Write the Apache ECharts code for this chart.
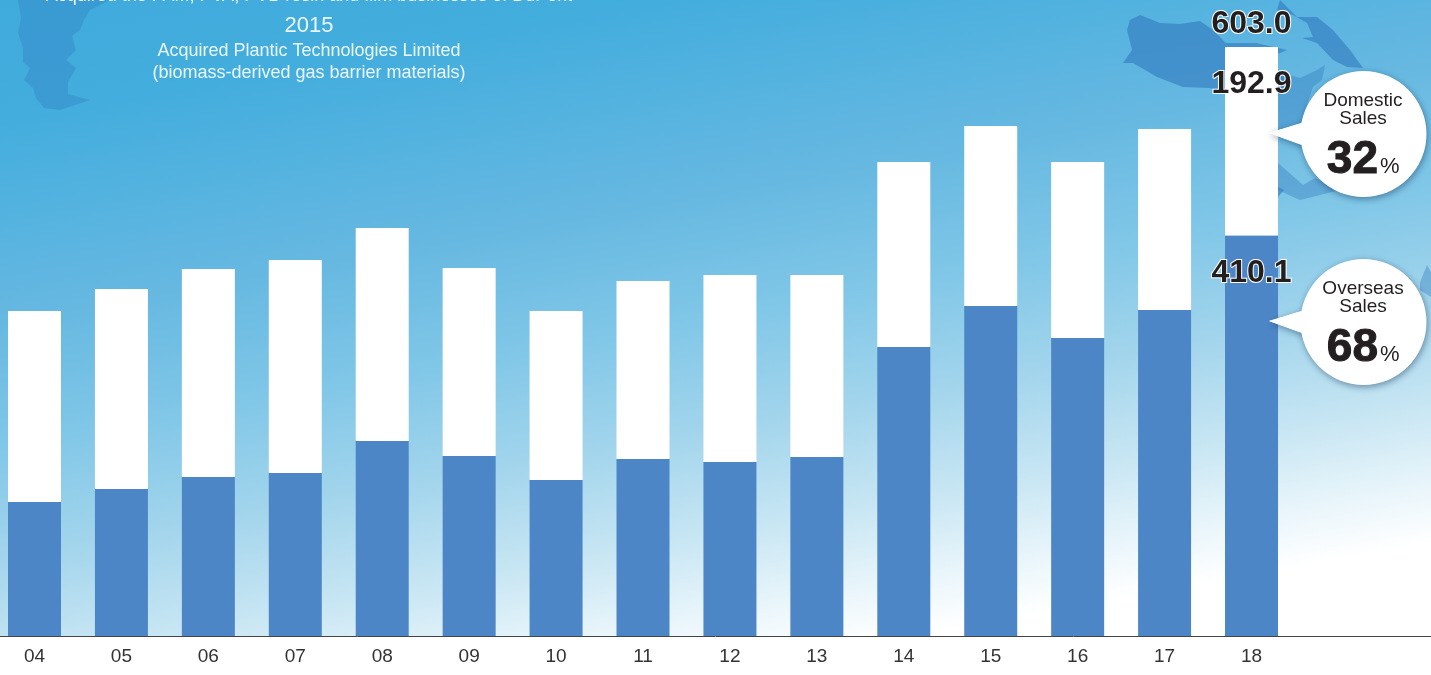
<!DOCTYPE html>
<html><head><meta charset="utf-8">
<style>html,body{margin:0;padding:0;background:#fff}#c{width:1431px;height:675px}</style>
<script src="https://cdn.jsdelivr.net/npm/echarts@6/dist/echarts.min.js"></script>
</head><body><div id="c"></div>
<script>
const categories = ['04','05','06','07','08','09','10','11','12','13','14','15','16','17','18','',''];
const overseas = [137.2,150.5,162.8,166.9,199.6,184.3,159.7,181.2,178.1,183.3,295.9,337.8,305.1,333.7,410.1];
const domestic = [195.5,204.7,212.9,218.0,218.1,192.4,173.0,182.2,191.5,186.3,189.4,184.3,180.2,185.3,192.9];
const totalLabelPoint = [['18',603.0]];
const SANS = '"Liberation Sans", Arial, sans-serif';
const INK = '#231f20', CAP = '#eaf7fd', MAP = 'rgba(48,120,190,0.6)', MAP2 = 'rgba(48,120,190,0.38)';

function poly(points, fill, z){ return {type:'polygon', silent:true, z:z||-5, shape:{points}, style:{fill}}; }
function txt(x,y,text,size,fill,weight,align,extra){
  return {type:'text', silent:true, z:120, x, y, style:Object.assign({text, font:(weight||'normal')+' '+size+'px '+SANS, fill, align:align||'center', verticalAlign:'middle'},extra||{})};
}
function bubble(cy, l1, l2, pct){
  const cx=1363.5, r=63, y1=cy-33.5, y2=cy-15.5;
  const shadow={shadowBlur:7, shadowColor:'rgba(0,30,70,0.45)', shadowOffsetX:1, shadowOffsetY:2};
  return [
    {type:'polygon', silent:true, z:110, shape:{points:[[1269,cy-1],[1304,cy-12],[1304,cy+12]]}, style:Object.assign({fill:'#fff'},shadow)},
    {type:'circle', silent:true, z:111, shape:{cx,cy,r}, style:Object.assign({fill:'#fff'},shadow)},
    {type:'polygon', silent:true, z:112, shape:{points:[[1269,cy-1],[1306,cy-12],[1306,cy+12]]}, style:{fill:'#fff'}},
    txt(1363,y1,l1,19,INK), txt(1363,y2,l2,19,INK),
    txt(1378,cy+26,pct,46,INK,'bold','right',{stroke:INK,lineWidth:1}),
    txt(1380,cy+33,'%',22,INK,'normal','left')
  ];
}
const elements = [
  {type:'rect', silent:true, z:-10, shape:{x:0,y:0,width:1431,height:636}, style:{fill:new echarts.graphic.LinearGradient(0,0,0.0974,1.218,[
    {offset:0,color:'#3fabdc'},{offset:0.15,color:'#43addd'},{offset:0.4,color:'#66b8e1'},{offset:0.55,color:'#7fc6e7'},{offset:0.7,color:'#a3d5ec'},{offset:0.83,color:'#c8e6f3'},{offset:0.92,color:'#e6f4fa'},{offset:1,color:'#ffffff'}])}},
  poly([[18,0],[21,18],[18,33],[23,48],[23,62],[30,68],[24,80],[33,88],[36,98],[44,108],[60,110],[72,106],[90,100],[68,94],[68,82],[76,68],[66,60],[76,50],[72,36],[80,30],[84,20],[90,10],[110,0]],'rgba(50,125,195,0.38)'),
  poly([[1130,20],[1140,15],[1160,23],[1180,24],[1200,21],[1213,30],[1226,43],[1256,43],[1287,50],[1280,53],[1267,58],[1275,70],[1290,78],[1278,95],[1270,130],[1240,110],[1225,93],[1210,88],[1183,87],[1157,77],[1133,63],[1123,63],[1132,50],[1127,30]],MAP),
  poly([[1278,72],[1300,78],[1317,70],[1325,65],[1322,80],[1313,87],[1300,125],[1278,130]],MAP2),
  poly([[1278,163],[1303,185],[1315,178],[1340,190],[1300,200],[1278,190]],MAP2),
  poly([[1278,187],[1284,190],[1278,197]],MAP),
  poly([[1280,0],[1297,17],[1317,17],[1333,30],[1350,50],[1363,68],[1347,67],[1333,60],[1317,43],[1302,38],[1313,37],[1307,23],[1293,15],[1277,10]],MAP),
  poly([[1420,282],[1427,265],[1431,272],[1431,297],[1420,290]],MAP2),
  txt(309,-4,'Acquired the PAM, PVA, PVB resin and film businesses of DuPont',18,'#f2fafe'),
  txt(309,26,'2015',22,CAP),
  txt(309,51.5,'Acquired Plantic Technologies Limited',18,CAP),
  txt(309,73,'(biomass-derived gas barrier materials)',18,CAP)
].concat(bubble(134,'Domestic','Sales','32'), bubble(322,'Overseas','Sales','68'));

const valueLabel = {show:true, fontFamily:SANS, fontWeight:'bold', fontSize:32, color:INK, textBorderColor:'#fff', textBorderWidth:2};
function withLastLabel(values, offset){
  return values.map((v,i)=> i===values.length-1 ? {value:v, label:Object.assign({},valueLabel,{position:'insideTop',offset:[0,offset],formatter:p=>Number(p.value).toFixed(1)})} : v);
}
const chart = echarts.init(document.getElementById('c'), null, {renderer:'canvas'});
chart.setOption({
  animation:false,
  graphic:{elements},
  grid:{left:-8.96, top:1.08, width:1477.8, height:634.92, containLabel:false, outerBoundsMode:'none'},
  xAxis:{type:'category', data:categories, boundaryGap:true,
    axisLine:{show:true, lineStyle:{color:'#444', width:1}}, axisTick:{show:false},
    axisLabel:{interval:0, color:'#333', fontFamily:SANS, fontSize:19, margin:11}},
  yAxis:{type:'value', min:0, max:650, show:false, splitLine:{show:false}},
  series:[
    {name:'Overseas Sales', type:'bar', stack:'s', barWidth:53, itemStyle:{color:'#4d86c6'}, data:withLastLabel(overseas,17), z:5},
    {name:'Domestic Sales', type:'bar', stack:'s', barWidth:53, itemStyle:{color:'#fff'}, data:withLastLabel(domestic,16), z:5},
    {name:'Total', type:'scatter', symbolSize:0, data:totalLabelPoint, z:6, itemStyle:{opacity:1},
      label:Object.assign({},valueLabel,{position:'top',distance:7,opacity:1,formatter:p=>Number(p.value[1]).toFixed(1)})}
  ]
});
</script></body></html>
